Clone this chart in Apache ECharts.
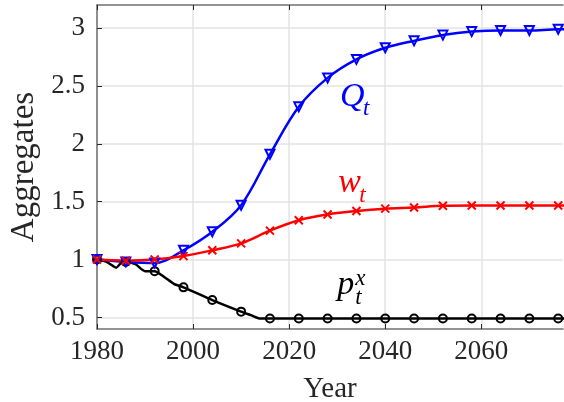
<!DOCTYPE html>
<html>
<head>
<meta charset="utf-8">
<script src="https://cdn.jsdelivr.net/npm/echarts@6/dist/echarts.min.js"></script>
<style>
html, body { margin: 0; padding: 0; background: #fff; }
#chart { width: 564px; height: 402px; }
</style>
</head>
<body>
<div id="chart"></div>
<script>
// tick labels
var xTicks = [1980, 2000, 2020, 2040, 2060];
var yTicks = [0.5, 1, 1.5, 2, 2.5, 3];

// years with a marker (every 6 years), plus the last year past the right edge
var markerYears = [1980, 1986, 1992, 1998, 2004, 2010, 2016, 2022, 2028, 2034, 2040, 2046, 2052, 2058, 2064, 2070, 2076];
var lineYears = markerYears.concat([2078]);

// Q_t (blue)
var qValues = [1.00, 0.98, 0.97, 1.08, 1.24, 1.47, 1.91, 2.32, 2.57, 2.73, 2.83, 2.89, 2.94, 2.97, 2.98, 2.98, 2.99, 2.99];
// w_t (red)
var wValues = [1.00, 0.99, 1.00, 1.03, 1.08, 1.14, 1.25, 1.34, 1.39, 1.42, 1.44, 1.45, 1.465, 1.467, 1.467, 1.467, 1.467, 1.467];
// p_t^x (black), read at more years because of the early wiggle
var pYears = [1980, 1982, 1984, 1985, 1986, 1988, 1990, 1992, 1994, 1996, 1998, 2004, 2010, 2012, 2014, 2016, 2022, 2028, 2034, 2040, 2046, 2052, 2058, 2064, 2070, 2076, 2078];
var pValues = [1.00, 0.98, 0.93, 0.97, 0.98, 0.96, 0.90, 0.90, 0.85, 0.79, 0.76, 0.65, 0.55, 0.52, 0.49, 0.49, 0.49, 0.49, 0.49, 0.49, 0.49, 0.49, 0.49, 0.49, 0.49, 0.49, 0.49];

var serif = '"Liberation Serif", "DejaVu Serif", serif';
var txt = '#262626';
var box = '#707070';

function pairs(xs, ys) {
	return xs.map(function (x, i) { return [x, ys[i]]; });
}
function markerOr(sym) {
	return function (v) { return markerYears.indexOf(v[0]) >= 0 ? sym : 'none'; };
}

var chart = echarts.init(document.getElementById('chart'));
var option = {
	animation: false,
	grid: { left: 97, right: 1, top: 5, bottom: 73, outerBoundsMode: 'none', containLabel: false },
	xAxis: [{
		type: 'value', min: 1980, max: 2077, position: 'bottom',
		name: 'Year', nameLocation: 'middle', nameGap: 46,
		nameTextStyle: { fontFamily: serif, fontSize: 29, color: txt },
		axisLine: { show: true, onZero: false, lineStyle: { color: box, width: 1.5 } },
		axisTick: { inside: true, length: 5, customValues: xTicks, lineStyle: { color: txt } },
		axisLabel: {
			customValues: xTicks, margin: 9, fontFamily: serif, fontSize: 27, color: txt,
			formatter: function (v) { return String(v); }
		},
		splitLine: { show: true, lineStyle: { color: '#e3e3e3', width: 1.5 } }
	}, {
		type: 'value', min: 1980, max: 2077, position: 'top',
		axisLine: { show: true, onZero: false, lineStyle: { color: box, width: 1.5 } },
		axisTick: { inside: true, length: 5, customValues: xTicks, lineStyle: { color: txt } },
		axisLabel: { show: false },
		splitLine: { show: false }
	}],
	yAxis: {
		type: 'value', min: 0.4, max: 3.2,
		name: 'Aggregates', nameLocation: 'middle', nameGap: 53,
		nameTextStyle: { fontFamily: serif, fontSize: 33, color: txt },
		axisLine: { show: true, onZero: false, lineStyle: { color: box, width: 1.5 } },
		axisTick: { show: true, inside: true, length: 5, customValues: yTicks, lineStyle: { color: txt } },
		axisLabel: { customValues: yTicks, margin: 12, fontFamily: serif, fontSize: 27, color: txt },
		splitLine: { show: true, lineStyle: { color: '#e3e3e3', width: 1.5 } }
	},
	series: [{
		name: 'p', type: 'line', smooth: 0.2,
		data: pairs(pYears, pValues),
		symbol: markerOr('circle'), symbolSize: 8,
		itemStyle: { color: 'rgba(0,0,0,0)', borderColor: '#000', borderWidth: 2 },
		lineStyle: { color: '#000', width: 2.5 }
	}, {
		name: 'Q', type: 'line', smooth: 0.35,
		data: pairs(lineYears, qValues),
		symbol: markerOr('triangle'), symbolRotate: 180, symbolSize: 9,
		itemStyle: { color: 'rgba(0,0,0,0)', borderColor: '#0000ff', borderWidth: 2 },
		lineStyle: { color: '#0000ff', width: 2.5 }
	}, {
		name: 'w', type: 'line', smooth: 0.35,
		data: pairs(lineYears, wValues),
		symbol: markerOr('path://M0,0L10,10M10,0L0,10'), symbolSize: 8,
		itemStyle: { color: 'rgba(0,0,0,0)', borderColor: '#ff0000', borderWidth: 2 },
		lineStyle: { color: '#ff0000', width: 2.5 }
	}]
};
chart.setOption(option);

// math labels, anchored at the base letter's left baseline in data units
var labels = [
	{ at: [2030.6, 2.33], base: 'Q', sub: 't', sup: '', color: '#0000ff' },
	{ at: [2030.2, 1.58], base: 'w', sub: 't', sup: '', color: '#ff0000' },
	{ at: [2030.0, 0.70], base: 'p', sub: 't', sup: 'x', color: '#000000' }
];
function piece(str, x, y, size, color) {
	return {
		type: 'text', x: x, y: y, z: 100,
		style: {
			text: str, font: 'italic ' + size + 'px ' + serif, fill: color,
			align: 'left', textAlign: 'left',
			verticalAlign: 'alphabetic', textVerticalAlign: 'bottom'
		}
	};
}
var elements = [];
labels.forEach(function (l) {
	var p = chart.convertToPixel({ xAxisIndex: 0, yAxisIndex: 0 }, l.at);
	var bx = p[0], by = p[1] + 8;
	var bw = l.base === 'Q' ? 23 : l.base === 'w' ? 21 : 18;
	elements.push(piece(l.base, bx, by, 34, l.color));
	elements.push(piece(l.sub, bx + bw, by + 7, 23, l.color));
	if (l.sup) elements.push(piece(l.sup, bx + bw, by - 12, 23, l.color));
});
chart.setOption({ graphic: elements });
</script>
</body>
</html>
